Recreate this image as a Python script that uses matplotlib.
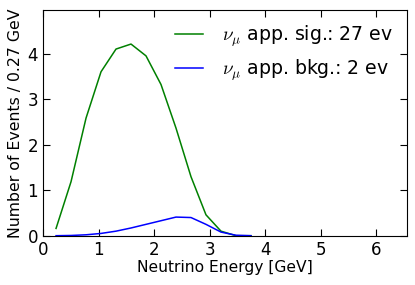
import numpy as np
import matplotlib
matplotlib.use("Agg")
from matplotlib import pyplot as plt

# bin centres [GeV], bin width 0.27 GeV
energy = [0.235, 0.505, 0.775, 1.045, 1.315, 1.585, 1.855, 2.125, 2.395,
          2.665, 2.935, 3.205, 3.475, 3.745]
sig_events = [0.16, 1.19, 2.59, 3.61, 4.11, 4.22, 3.96, 3.33, 2.37,
              1.30, 0.46, 0.10, 0.0, 0.0]
bkg_events = [0.0, 0.005, 0.02, 0.05, 0.10, 0.17, 0.25, 0.33, 0.41,
              0.40, 0.25, 0.08, 0.01, 0.0]

sig_label = r"$\nu_\mu$ app. sig.: 27 ev"
bkg_label = r"$\nu_\mu$ app. bkg.: 2 ev"

plt.rcParams['mathtext.fontset'] = 'cm'
fig = plt.figure(figsize=(4.15, 2.85), dpi=100)
ax = fig.add_axes([43/415, 1 - 235.7/285, (406.7 - 43)/415, (235.7 - 10)/285])

ax.plot(energy, sig_events, color='green', lw=1.1, label=sig_label)
ax.plot(energy, bkg_events, color='blue', lw=1.1, label=bkg_label)

ax.set_xlim(0, 6.55)
ax.set_ylim(0, 4.97)
ax.set_xticks(range(7))
ax.set_yticks(range(5))
ax.tick_params(direction='in', top=True, right=True, labelsize=12, length=5)
ax.set_xlabel("Neutrino Energy [GeV]", fontsize=11.2, labelpad=1)
ax.set_ylabel("Number of Events / 0.27 GeV", fontsize=11.3, labelpad=3)
ax.legend(loc='upper right', frameon=False, fontsize=13.6, handlelength=1.45,
          handletextpad=1.05, labelspacing=0.45, borderaxespad=0.3)

fig.savefig("out.png", dpi=100)
